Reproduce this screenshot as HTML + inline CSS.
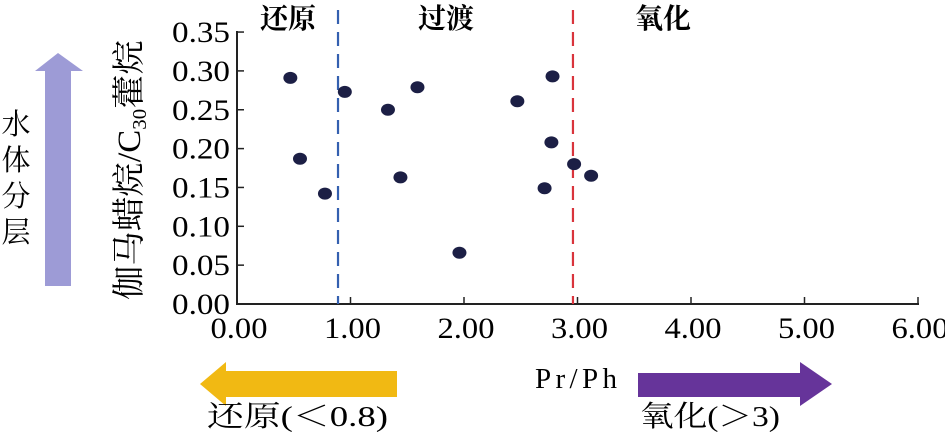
<!DOCTYPE html>
<html><head><meta charset="utf-8"><style>
html,body{margin:0;padding:0;background:#fff;}
svg{display:block;font-family:"Liberation Serif","Noto Serif CJK SC",serif;}
</style></head><body>
<svg width="945" height="432" viewBox="0 0 945 432">
<g id="axes"></g>
<g id="marks"></g>
<text x="288" y="28" font-size="28" font-weight="bold" text-anchor="middle">还原</text>
<text x="446" y="28" font-size="28" font-weight="bold" text-anchor="middle">过渡</text>
<text x="663" y="28" font-size="28" font-weight="bold" text-anchor="middle">氧化</text>
<text transform="translate(140,170) rotate(-90)" font-size="33" text-anchor="middle" textLength="260" lengthAdjust="spacingAndGlyphs">伽马蜡烷/C<tspan font-size="20" dy="6">30</tspan><tspan dy="-6">藿烷</tspan></text>
<text x="535" y="388" font-size="29" textLength="82" lengthAdjust="spacing">Pr/Ph</text>
<polygon points="45,286 71,286 71,71 83,71 58,53 35,71 45,71" fill="#9d9bd6"/>
<g font-size="29" text-anchor="middle">
<text x="16" y="134">水</text><text x="16" y="170">体</text><text x="16" y="206">分</text><text x="16" y="242">层</text></g>
<polygon points="397,371 397,397 226,397 226,406 200,384 226,362 226,371" fill="#f1b913"/>
<text x="207" y="426" font-size="29" textLength="181" lengthAdjust="spacingAndGlyphs">还原(＜0.8)</text>
<polygon points="638,373 800,373 800,362 832,384 800,406 800,397 638,397" fill="#66349a"/>
<text x="640" y="426" font-size="29" textLength="140" lengthAdjust="spacingAndGlyphs">氧化(＞3)</text>
</svg>
<script>
const xTicks=[0,1,2,3,4,5,6];
const xTickLabels=["0.00","1.00","2.00","3.00","4.00","5.00","6.00"];
const yTicks=[0,0.05,0.1,0.15,0.2,0.25,0.3,0.35];
const yTickLabels=["0.00","0.05","0.10","0.15","0.20","0.25","0.30","0.35"];
const prPh=[0.47,0.555,0.775,0.95,1.33,1.44,1.59,1.96,2.47,2.78,2.77,2.71,2.97,3.12];
const gammacerane=[0.291,0.187,0.142,0.273,0.25,0.163,0.279,0.066,0.261,0.293,0.208,0.149,0.18,0.165];
const thresholds=[0.89,2.96];
const thresholdColors=["#3460b0","#d9343c"];
const X=v=>237+v*113.5, Y=v=>304-v*777;
const NS="http://www.w3.org/2000/svg";
function mk(t,a,p){const e=document.createElementNS(NS,t);for(const k in a)e.setAttribute(k,a[k]);p.appendChild(e);return e;}
const ax=document.getElementById('axes'), mg=document.getElementById('marks');
let l=mk('line',{x1:237,y1:31,x2:237,y2:305,stroke:'#222','stroke-width':2},ax);


l=mk('line',{x1:236,y1:304,x2:919,y2:304,stroke:'#222','stroke-width':2},ax);


yTicks.forEach((v,i)=>{
 const t=mk('line',{x1:237,y1:Y(v),x2:244,y2:Y(v),stroke:'#222','stroke-width':1.5},ax);
 
 
 const tx=mk('text',{x:230,y:Y(v)+10,'font-size':30,'text-anchor':'end',textLength:58,lengthAdjust:'spacingAndGlyphs'},ax);
 tx.textContent=yTickLabels[i];
 
 
});
xTicks.forEach((v,i)=>{
 const t=mk('line',{x1:X(v),y1:297,x2:X(v),y2:304,stroke:'#222','stroke-width':1.5},ax);
 
 
 const tx=mk('text',{x:X(v)+2,y:338,'font-size':30,'text-anchor':'middle',textLength:57,lengthAdjust:'spacingAndGlyphs'},ax);
 tx.textContent=xTickLabels[i];
 
 
});
thresholds.forEach((v,i)=>{
 const d=mk('line',{x1:X(v),y1:10,x2:X(v),y2:304,stroke:thresholdColors[i],'stroke-width':2.2,'stroke-dasharray':'14 8'},mg);
 
 
});
prPh.forEach((v,i)=>{
 const c=mk('ellipse',{cx:X(v),cy:Y(gammacerane[i]),rx:7,ry:6,fill:'#1c1f45'},mg);
 
 
});
</script>
</body></html>
